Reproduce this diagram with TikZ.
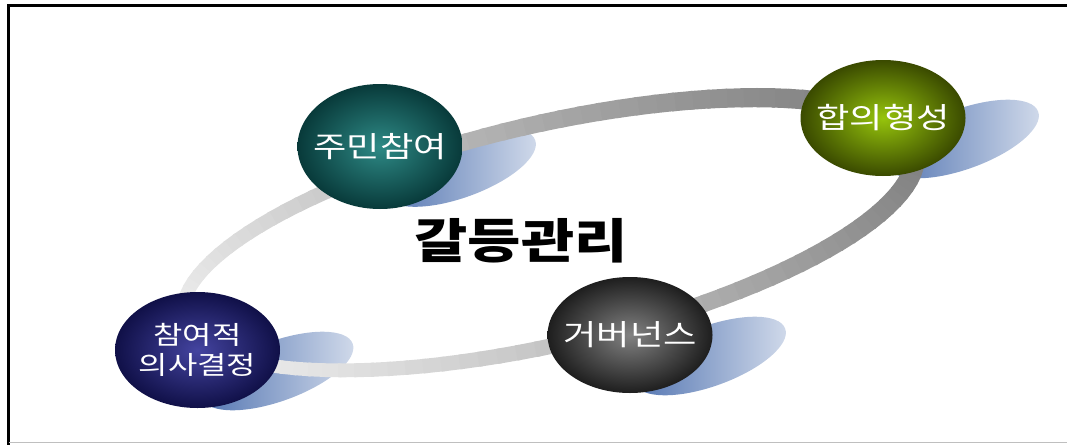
\documentclass[tikz,border=0pt]{standalone}
\usepackage{fontspec}
\newfontfamily\kr{Noto Sans CJK KR}
\usepackage{tikz}
\usetikzlibrary{positioning, shapes.geometric, backgrounds}
\definecolor{sdwblue}{HTML}{4F72B0}
\newcommand{\wtxt}[1]{\scalebox{1.25}[1]{#1}}
\tikzset{%
	ball/.style = {name = #1, ellipse, minimum width = 3.3cm, minimum height = 2.32cm, inner sep = 0pt, shading = radial},
	ktxt/.style = {text = white, align = center, font = \kr\fontsize{16.5}{16.5}\selectfont},
	sdw/.style = {ellipse, minimum width = 3.2cm, minimum height = 1.2cm, rotate = 20, left color = sdwblue, right color = sdwblue!25}
}
\begin{document}
\begin{tikzpicture}
			\useasboundingbox (0,0) rectangle (21.34,8.88);
			\draw [line width = 1.7pt] (0.17,-0.5) |- (21.8,8.77);
			\draw [black!25, line width = 0.6pt] (0.17,0.03) -- (21.34,0.03);
			\node [ball = {jumin}, minimum height = 2.5cm, inner color = {rgb,255:red,46;green,138;blue,134}, outer color = {rgb,255:red,8;green,58;blue,58}, label = {[ktxt]center:\wtxt{주민참여}}] at (7.6,5.95) {};
			\node [ball = {hapui}, inner color = {rgb,255:red,150;green,196;blue,12}, outer color = {rgb,255:red,58;green,74;blue,0}, label = {[ktxt]center:\wtxt{합의형성}}] at (17.66,6.52) {};
			\node [ball = {gover}, inner color = {rgb,255:red,130;green,130;blue,130}, outer color = {rgb,255:red,30;green,30;blue,30}, label = {[ktxt]center:\wtxt{거버넌스}}] at (12.6,2.18) {};
			\node [ball = {chamyeo}, inner color = {rgb,255:red,68;green,68;blue,160}, outer color = {rgb,255:red,16;green,16;blue,72}, label = {[ktxt, font = \kr\fontsize{14.5}{17}\selectfont]center:\wtxt{참여적}\\\wtxt{의사결정}}] at (3.95,1.88) {};
			\node [font = \kr\bfseries\fontsize{27}{30}\selectfont] (title) at (10.42,4.06) {\scalebox{1.22}[1]{갈등관리}};
			\begin{scope}[on background layer]
			\node [sdw] at ([shift = {(1.6,-0.42)}]jumin.center) {};
			\node [sdw] at ([shift = {(1.6,-0.42)}]hapui.center) {};
			\node [sdw] at ([shift = {(1.6,-0.42)}]gover.center) {};
			\node [sdw] at ([shift = {(1.6,-0.42)}]chamyeo.center) {};
			% ring behind the balls
			\begin{scope}[shift = {(10.98,4.2)}, rotate = 13]
			\foreach \t in {0,3,...,357} {
				\pgfmathsetmacro\dk{(1+cos(\t-10))/2}
				\pgfmathsetmacro\gr{7+43*\dk}
				\pgfmathsetmacro\lw{0.26+0.14*\dk}
				\draw [line width = \lw cm, draw = black!\gr] ({7.5*cos(\t)},{2.2*sin(\t)}) -- ({7.5*cos(\t+3.6)},{2.2*sin(\t+3.6)});
			}
			\end{scope}
			\end{scope}
\end{tikzpicture}
\end{document}
